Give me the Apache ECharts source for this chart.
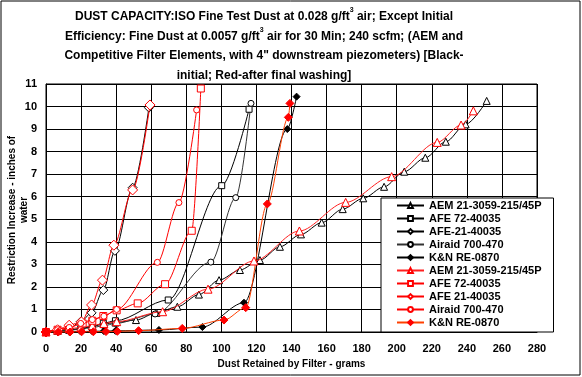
<!DOCTYPE html>
<html>
<head>
<meta charset="utf-8">
<script src="https://cdn.jsdelivr.net/npm/echarts@6/dist/echarts.min.js"></script>
<style>
  html, body { margin: 0; padding: 0; background: #fff; }
  #chart { width: 582px; height: 377px; }
</style>
</head>
<body>
<div id="chart"></div>
<script>
// ─── data: [grams retained, restriction inches of water] ───
const aemInitial = [[0,0],[6.6,0.05],[13.2,0.1],[19.8,0.15],[26.4,0.25],[33,0.35],[39.6,0.42],[51.3,0.53],[63,0.85],[74.9,1.12],[87.2,1.66],[98.7,2.3],[110.6,2.75],[122,3.19],[133.4,3.78],[145.4,4.33],[157.2,4.85],[169.2,5.45],[180.9,5.93],[192.8,6.44],[204.3,7.11],[216.3,7.73],[228,8.44],[239.3,9.21],[251.3,10.25]];
const afe72Initial = [[0,0],[6.6,0.03],[13.2,0.08],[19.8,0.15],[26.4,0.25],[32.7,0.39],[39.6,0.5],[69.7,1.42],[100.2,6.49],[115.8,9.88]];
const afe21Initial = [[0,0],[6.6,0.05],[13.2,0.15],[19.8,0.46],[26,0.85],[32.7,1.86],[39.3,3.6],[49.4,6.4],[58.7,9.95]];
const airaidInitial = [[0,0],[6.6,0.03],[13.2,0.08],[19.8,0.12],[26.4,0.2],[33,0.28],[39.6,0.38],[62.2,0.8],[94,3.1],[108.2,5.96],[116.9,10.14]];
const knInitial = [[0,0],[6.6,0],[13.2,0.01],[19.8,0.02],[26.4,0.03],[33,0.04],[39.6,0.05],[64.4,0.09],[89.2,0.22],[112.9,1.3],[137.6,9.0],[142.9,10.44]];

const aemWashed = [[0,0],[6.6,0.08],[13.2,0.15],[19.8,0.2],[26.4,0.28],[33,0.38],[40.3,0.46],[66.5,0.9],[92.4,1.9],[118.6,3.15],[144.5,4.48],[170.9,5.75],[197.1,6.89],[223.1,8.41],[236.7,9.18],[243.7,9.81]];
const afe72Washed = [[0,0],[6.6,0.1],[13.2,0.2],[20.9,0.38],[26.4,0.5],[32.7,0.71],[40.3,0.96],[52.3,1.27],[67.9,2.12],[83.1,4.49],[88.3,10.8]];
const afe21Washed = [[0,0],[6.6,0.1],[13.2,0.3],[20.2,0.45],[26,1.2],[32.2,2.3],[38.7,3.85],[49.4,6.3],[59.3,10.07]];
const airaidWashed = [[0,0],[6.6,0.1],[13.2,0.2],[19.8,0.38],[26.4,0.55],[33,0.7],[40.3,1.0],[63.5,3.09],[75.8,5.74],[85.9,9.85]];
const knWashed = [[0,0],[7,0],[13.7,0],[20.3,0.01],[27,0.01],[34.2,0.02],[40.7,0.03],[52.8,0.06],[77.7,0.16],[101.5,0.53],[113.9,1.08],[126.2,5.68],[138.2,9.52],[139.1,10.14]];

const seriesNames = ['AEM 21-3059-215/45P', 'AFE 72-40035', 'AFE-21-40035', 'Airaid 700-470', 'K&N RE-0870',
                     'AEM 21-3059-215/45P', 'AFE 72-40035', 'AFE 21-40035', 'Airaid 700-470', 'K&N RE-0870'];

const FONT = "'Liberation Sans', Arial, sans-serif";
const RED_TAG = ' (w)';   // keeps duplicate legend names apart

function mk(idx, data, opt) {
  const name = seriesNames[idx] + (idx >= 5 ? RED_TAG : '');
  return {
    name,
    type: 'line',
    data,
    smooth: 0.3,
    smoothMonotone: 'x',
    symbol: opt.symbol,
    symbolSize: opt.size,
    lineStyle: { color: opt.line, width: 1 },
    itemStyle: { color: opt.fill, borderColor: opt.stroke, borderWidth: 1 },
    emphasis: { disabled: true },
    z: idx >= 5 ? 4 : 3,
  };
}

const series = [
  mk(0, aemInitial,    { symbol: 'triangle', size: 7, line: '#000', fill: '#fff', stroke: '#000' }),
  mk(1, afe72Initial,  { symbol: 'rect',     size: 6, line: '#000', fill: '#fff', stroke: '#000' }),
  mk(2, afe21Initial,  { symbol: 'diamond',  size: 9, line: '#000', fill: '#fff', stroke: '#000' }),
  mk(3, airaidInitial, { symbol: 'circle',   size: 6, line: '#333', fill: '#fff', stroke: '#000' }),
  mk(4, knInitial,     { symbol: 'diamond',  size: 7, line: '#000', fill: '#000', stroke: '#000' }),
  mk(5, aemWashed,     { symbol: 'triangle', size: 8, line: '#ff2020', fill: '#fff', stroke: '#ff0000' }),
  mk(6, afe72Washed,   { symbol: 'rect',     size: 7, line: '#ff0000', fill: '#fff', stroke: '#ff0000' }),
  mk(7, afe21Washed,   { symbol: 'diamond',  size: 10, line: '#ff0000', fill: '#fff', stroke: '#ff0000' }),
  mk(8, airaidWashed,  { symbol: 'circle',   size: 6, line: '#ff0000', fill: '#fff', stroke: '#ff0000' }),
  mk(9, knWashed,      { symbol: 'diamond',  size: 8, line: '#ff4000', fill: '#ff0000', stroke: '#ff0000' }),
];

const titleText =
  '{a|DUST CAPACITY:ISO Fine Test Dust at 0.028 g/ft}{s|3}{a| air; Except Initial}\n' +
  '{a|Efficiency: Fine Dust at 0.0057 g/ft}{s|3}{a| air for 30 Min; 240 scfm; (AEM and}\n' +
  '{a|Competitive Filter Elements, with 4" downstream piezometers) [Black-}\n' +
  '{a|initial; Red-after final washing]}';

const chart = echarts.init(document.getElementById('chart'), null, { renderer: 'canvas' });
chart.setOption({
  animation: false,
  backgroundColor: '#fff',
  textStyle: { fontFamily: FONT },
  grid: {
    left: 46, right: 45, top: 84, bottom: 45,
    containLabel: false, outerBoundsMode: 'none',
    show: true, borderColor: '#000', borderWidth: 1, backgroundColor: '#fff',
  },
  graphic: [
    { type: 'rect', silent: true, z: 0,
      shape: { x: 1, y: 1, width: 579, height: 374 },
      style: { fill: 'none', stroke: '#000', lineWidth: 1 } },
    { type: 'text', silent: true, x: 264, y: 7,
      style: {
        text: titleText,
        align: 'center', textAlign: 'center',
        fill: '#000',
        rich: {
          a: { fontFamily: FONT, fontSize: 12, fontWeight: 'bold', lineHeight: 19.5, color: '#000' },
          s: { fontFamily: FONT, fontSize: 7, fontWeight: 'bold', lineHeight: 12, verticalAlign: 'top', color: '#000' },
        },
      } },
    // y axis title, two lines, rotated
    { type: 'text', silent: true, x: 18, y: 210, rotation: Math.PI / 2,
      style: {
        text: 'Restriction Increase - inches of\nwater',
        align: 'center', textAlign: 'center',
        verticalAlign: 'middle', textVerticalAlign: 'middle',
        fontFamily: FONT, fontSize: 10, fontWeight: 'bold', lineHeight: 12, fill: '#000',
      } },
  ],
  legend: {
    orient: 'vertical',
    left: 381, top: 198,
    padding: [1, 12, 3, 15],
    itemGap: 0,
    itemWidth: 27, itemHeight: 6,
    backgroundColor: '#fff',
    borderColor: '#000', borderWidth: 1,
    textStyle: { fontFamily: FONT, fontSize: 11, fontWeight: 'bold', color: '#000', lineHeight: 13 },
    formatter: (n) => n.replace(RED_TAG, ''),
    selectedMode: false,
    data: series.map((s) => s.name),
    z: 10,
  },
  xAxis: {
    type: 'value', min: 0, max: 280, interval: 20,
    name: 'Dust Retained by Filter - grams',
    nameLocation: 'middle', nameGap: 27,
    nameTextStyle: { fontFamily: FONT, fontSize: 10, fontWeight: 'bold', color: '#000' },
    axisLine: { show: true, lineStyle: { color: '#000' } },
    axisTick: { show: false },
    axisLabel: { fontFamily: FONT, fontSize: 11, fontWeight: 'bold', color: '#000', margin: 11 },
    splitLine: { show: true, lineStyle: { color: '#000', width: 1 } },
  },
  yAxis: {
    type: 'value', min: 0, max: 11, interval: 1,
    axisLine: { show: true, lineStyle: { color: '#000' } },
    axisTick: { show: false },
    axisLabel: { fontFamily: FONT, fontSize: 11, fontWeight: 'bold', color: '#000', margin: 9 },
    splitLine: { show: true, lineStyle: { color: '#000', width: 1 } },
  },
  series,
});
</script>
</body>
</html>
